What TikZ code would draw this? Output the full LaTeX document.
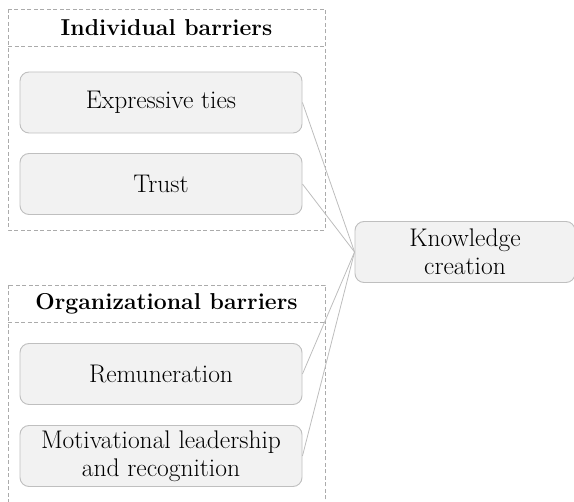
\documentclass[tikz,border=0pt]{standalone}
\begin{document}
\begin{tikzpicture}[x=1pt,y=-1pt,
  item/.style={draw=boxline, fill=boxfill, rounded corners=9pt, line width=0.9pt,
    minimum width=282pt, minimum height=61pt, align=center, inner sep=0pt,
    font=\fontsize{25.5}{28}\selectfont},
  group/.style={draw=grpline, dashed, dash pattern=on 4pt off 2.5pt, line width=0.7pt},
  head/.style={font=\fontsize{23}{26}\selectfont\bfseries},
  link/.style={draw=linkcol, line width=0.8pt}]
\definecolor{boxfill}{HTML}{F2F2F2}
\definecolor{boxline}{HTML}{BFBFBF}
\definecolor{grpline}{HTML}{ABABAB}
\definecolor{linkcol}{HTML}{BDBDBD}
\useasboundingbox (0,0) rectangle (574,502);
% group frames
\draw[group] (8,9) rectangle (325,230);
\draw[group] (8,46) -- (325,46);
\draw[group] (8,285) rectangle (325,510);
\draw[group] (8,322) -- (325,322);
\node[head] (h1) at (166.5,28) {Individual barriers};
\node[head] (h2) at (166.5,303.5) {Organizational barriers};
% factors
\node[item] (e) at (161,102.5) {Expressive ties};
\node[item] (t) at (161,184) {Trust};
\node[item] (r) at (161,374) {Remuneration};
\node[item] (m) at (161,456) {Motivational leadership\\and recognition};
\node[item, minimum width=220pt] (k) at (465,252) {Knowledge\\creation};
% links
\foreach \n in {e,t,r,m} \draw[link] (\n.east) -- (k.west);
\end{tikzpicture}
\end{document}
